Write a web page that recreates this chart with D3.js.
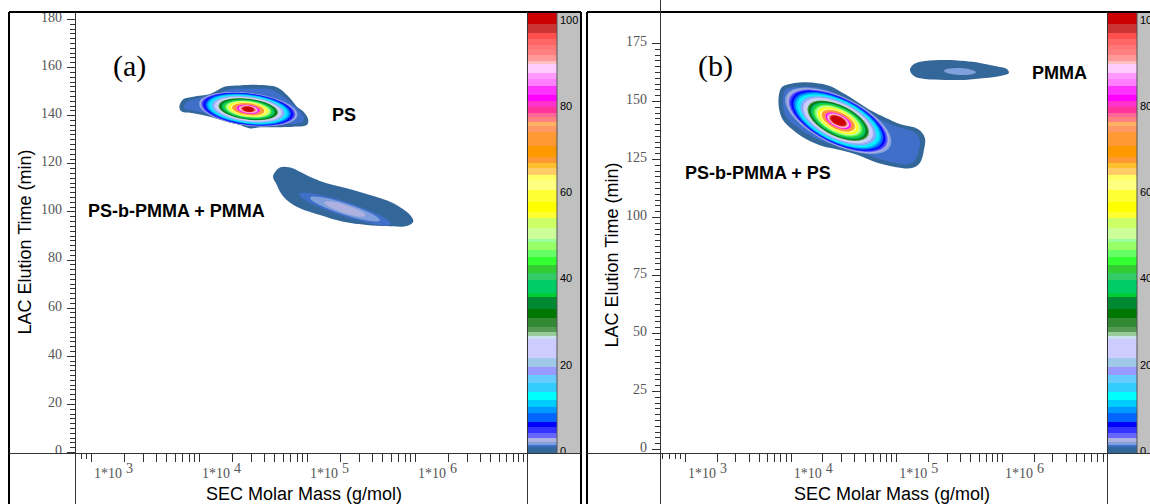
<!DOCTYPE html>
<html><head><meta charset="utf-8">
<script src="https://cdn.jsdelivr.net/npm/d3@7/dist/d3.min.js"></script>
<style>
html,body{margin:0;padding:0;background:#fff;}
svg{display:block;}
</style></head><body>
<svg id="chart" width="1150" height="504"></svg>
<script>
// ---- Intensity colour scale (% of max signal): lower edge of each band and its colour
const intensityEdges = [0,1.4,1.8,2.5,3.4,4.5,5.9,7.0,9.1,10.4,12.0,13.8,15.9,17.7,19.5,21.5,25.9,26.5,27.4,28.6,30.6,32.7,35.4,36.3,39.2,40.8,42.6,44.4,46.0,47.8,48.5,51.0,53.3,54.6,56.9,59.6,61.9,63.0,64.6,65.8,67.1,69.6,72.8,74.1,75.1,76.2,77.1,78.5,79.8,81.2,83.2,84.8,86.2,88.2,88.9,90.2,91.4,92.5,93.9,95.2,97.3];
const intensityColors = ["#336699","#3F6FC8","#7FA0DC","#AEB0E0","#6666FF","#3333FF","#0000FF","#0066FF","#0099FF","#00CCFF","#00FFFF","#33CCFF","#66CCFF","#9999FF","#A0C8E8","#CCCCFF","#CCE0F0","#99CC99","#559955","#338833","#007700","#008833","#00CC33","#00CC66","#33CC66","#33CC33","#33FF33","#66FF66","#99FF66","#99FF99","#CCFF99","#CCFF66","#FFFF33","#FFFF00","#FFFF33","#FFFF80","#FFFF66","#FFCC66","#FFC030","#FF9933","#FF9900","#FF9933","#FF9966","#FFB060","#FF8080","#FF6699","#FF3399","#FF33CC","#FF00FF","#FF33FF","#FF80FF","#FF99FF","#FFCCFF","#FFC0C0","#FF9999","#FF8080","#FF7777","#FF6666","#FF5050","#CC3333","#CC0000"];
const intensityTicks = [0,20,40,60,80,100];

// ---- Axis ticks
const timeTicksA = [0,20,40,60,80,100,120,140,160,180];
const timeTicksB = [0,25,50,75,100,125,150,175];
const massDecades = [3,4,5,6];

// ---- Spots: points are [log10 M (g/mol), LAC elution time (min)]
// (a) PS spot: lowest-level outline and the first shoulder
const psOutlineA = [[3.818,143.5],[3.855,146.6],[3.947,147.7],[4.102,148.8],[4.241,151.9],[4.380,152.4],[4.546,152.6],[4.685,152.1],[4.750,150.9],[4.815,148.4],[4.870,145.6],[4.907,143.5],[4.966,141.5],[5.012,138.0],[4.997,135.9],[4.873,135.2],[4.719,135.0],[4.565,135.0],[4.472,134.5],[4.380,135.9],[4.256,137.3],[4.102,139.4],[3.947,140.8],[3.840,141.5]];
const psShoulderA = [[3.861,143.6],[3.898,145.9],[3.981,147.0],[4.120,148.0],[4.269,150.7],[4.426,151.1],[4.546,151.1],[4.667,150.7],[4.778,148.0],[4.852,145.1],[4.926,142.2],[4.972,138.8],[4.954,137.0],[4.843,136.3],[4.704,135.9],[4.565,135.9],[4.472,135.4],[4.380,136.8],[4.250,138.2],[4.102,140.3],[3.963,141.8],[3.880,142.4]];
const psPeakA = [4.456,142.5];
// contour rings: [level %, half width (decades), half height (min)]
const psRingsA = [[1.8,0.46,6.8],[2.5,0.45,6.7],[3.4,0.44,6.6],[4.5,0.43,6.5],[5.9,0.415,6.35],[7.0,0.40,6.2],[9.1,0.385,6.0],[10.4,0.375,5.85],[12.0,0.36,5.65],[13.8,0.35,5.5],[15.9,0.34,5.3],[17.7,0.33,5.15],[19.5,0.32,5.0],[21.5,0.31,4.85],[25.9,0.285,4.5],[27.4,0.278,4.35],[30.6,0.268,4.2],[32.7,0.258,4.05],[36.3,0.245,3.85],[40.8,0.228,3.6],[44.4,0.215,3.4],[48.5,0.2,3.2],[54.6,0.182,2.95],[59.6,0.168,2.75],[65.8,0.15,2.45],[69.6,0.138,2.25],[75.1,0.12,2.0],[79.8,0.105,1.8],[84.8,0.09,1.6],[88.2,0.08,1.45],[91.4,0.07,1.3],[95.2,0.06,1.15],[97.3,0.05,1.0]];

// (a) PS-b-PMMA + PMMA spot
const blockOutlineA = [[4.688,115.1],[4.734,117.9],[4.781,118.6],[4.873,117.9],[4.935,116.5],[5.058,113.8],[5.182,111.7],[5.368,109.6],[5.583,106.8],[5.799,103.4],[5.954,98.5],[5.984,95.7],[5.923,93.9],[5.738,93.9],[5.553,94.4],[5.336,95.7],[5.120,98.5],[4.935,101.3],[4.812,104.8],[4.750,108.2],[4.713,111.7],[4.688,113.8]];
const blockPeakA = [5.352,101.0];
const blockRingsA = [[1.4,0.445,3.0],[1.8,0.34,2.3],[2.5,0.2,1.7]];

// (b) PS-b-PMMA + PS spot
const blockOutlineB = [[3.889,152.6],[3.918,156.0],[4.041,157.8],[4.230,157.8],[4.372,156.5],[4.495,153.4],[4.618,150.0],[4.750,146.1],[4.902,142.7],[5.034,140.1],[5.204,137.9],[5.270,134.1],[5.261,128.9],[5.223,123.3],[5.148,121.1],[4.987,121.6],[4.798,123.7],[4.637,126.7],[4.467,128.9],[4.296,130.6],[4.145,133.6],[4.022,137.5],[3.927,141.8],[3.889,147.0]];
const blockShoulderB = [[3.927,152.2],[3.956,155.2],[4.050,156.0],[4.220,156.0],[4.353,154.7],[4.466,152.2],[4.589,148.7],[4.722,144.8],[4.873,141.4],[5.015,138.8],[5.167,136.6],[5.223,133.2],[5.214,128.9],[5.176,124.6],[5.119,122.8],[4.987,123.3],[4.807,125.4],[4.646,128.4],[4.476,130.6],[4.315,132.3],[4.173,135.3],[4.060,138.8],[3.965,142.7],[3.927,147.4]];
const blockPeakB = [4.450,141.5];
const blockRingsB = [[1.8,0.549,10.3],[2.5,0.530,10.1],[3.4,0.511,9.9],[4.5,0.497,9.7],[5.9,0.482,9.5],[7.0,0.464,9.3],[9.1,0.445,9.05],[10.4,0.435,8.85],[12.0,0.416,8.6],[13.8,0.402,8.3],[15.9,0.388,8.05],[17.7,0.378,7.85],[19.5,0.364,7.6],[21.5,0.355,7.4],[25.9,0.326,6.9],[27.4,0.317,6.7],[30.6,0.303,6.45],[32.7,0.293,6.25],[36.3,0.279,5.95],[40.8,0.260,5.6],[44.4,0.246,5.3],[48.5,0.227,4.9],[54.6,0.208,4.5],[59.6,0.189,4.15],[65.8,0.170,3.7],[69.6,0.156,3.4],[75.1,0.142,3.1],[79.8,0.128,2.8],[84.8,0.114,2.5],[88.2,0.104,2.28],[91.4,0.095,2.07],[95.2,0.085,1.85],[97.3,0.076,1.64]];

// (b) PMMA spot
const pmmaOutlineB = [[5.129,163.4],[5.167,165.9],[5.271,167.2],[5.460,167.7],[5.649,167.2],[5.791,166.4],[5.933,165.1],[6.046,163.8],[6.065,162.1],[5.980,160.8],[5.838,159.9],[5.649,159.1],[5.460,159.1],[5.271,159.5],[5.167,160.8]];
const pmmaPeakB = [5.602,162.7];
const pmmaRingsB = [[1.8,0.151,1.5]];

// ---- Layout
const svg = d3.select("#chart");
const SANS = "'Liberation Sans', Arial, sans-serif";
const SERIF = "'Liberation Serif', 'Times New Roman', serif";

function bandColor(v){
  const i = Math.max(0, d3.bisectRight(intensityEdges, v) - 1);
  return intensityColors[i];
}

const panels = [
  { key:"a", frameL:9, frameR:581, plotL:75, plotR:527, top:12, bottom:453, axisTop:12,
    x:d3.scaleLog().domain([1e3,1e6]).range([91,415]),
    y:d3.scaleLinear().domain([0,180]).range([452,19]),
    timeTicks:timeTicksA, minorStep:2,
    tag:"(a)", tagAt:[113,76],
    spots:[
      {outlines:[[0,psOutlineA],[1.4,psShoulderA]], peak:psPeakA, rings:psRingsA, tilt:7},
      {outlines:[[0,blockOutlineA]], peak:blockPeakA, rings:blockRingsA, tilt:18}
    ],
    notes:[["PS",5.231,137.6],["PS-b-PMMA + PMMA",2.972,97.7]],
    yTitleX:31, yTitleY:242, xTitleX:304 },
  { key:"b", frameL:587, frameR:1161, plotL:660, plotR:1107, top:12, bottom:453, axisTop:0,
    x:d3.scaleLog().domain([1e3,1e6]).range([685,1002]),
    y:d3.scaleLinear().domain([0,175]).range([449,43]),
    timeTicks:timeTicksB, minorStep:2.5,
    tag:"(b)", tagAt:[698,76],
    spots:[
      {outlines:[[0,blockOutlineB],[1.4,blockShoulderB]], peak:blockPeakB, rings:blockRingsB, tilt:26},
      {outlines:[[0,pmmaOutlineB]], peak:pmmaPeakB, rings:pmmaRingsB, tilt:3}
    ],
    notes:[["PS-b-PMMA + PS",3.0,116.4],["PMMA",6.283,159.5]],
    yTitleX:618, yTitleY:255, xTitleX:892 }
];

svg.append("rect").attr("width",1150).attr("height",504).attr("fill","#fff");

panels.forEach(p => {
  const g = svg.append("g");
  const clipId = "clip-" + p.key;
  svg.append("clipPath").attr("id", clipId).append("rect")
    .attr("x", p.plotL).attr("y", p.top).attr("width", p.plotR - p.plotL).attr("height", p.bottom - p.top);

  // ---- spots
  const plot = g.append("g").attr("clip-path", `url(#${clipId})`);
  const line = d3.line()
    .x(d => p.x(Math.pow(10, d[0])))
    .y(d => p.y(d[1]))
    .curve(d3.curveCatmullRomClosed.alpha(0.5));
  p.spots.forEach(s => {
    s.outlines.forEach(([lvl, pts]) => {
      plot.append("path").attr("d", line(pts)).attr("fill", bandColor(lvl));
    });
    const cx = p.x(Math.pow(10, s.peak[0])), cy = p.y(s.peak[1]);
    s.rings.forEach(r => {
      const rx = p.x(Math.pow(10, s.peak[0] + r[1])) - cx;
      const ry = cy - p.y(s.peak[1] + r[2]);
      plot.append("ellipse")
        .attr("cx", cx).attr("cy", cy).attr("rx", rx).attr("ry", ry)
        .attr("transform", `rotate(${s.tilt},${cx},${cy})`)
        .attr("fill", bandColor(r[0]));
    });
  });

  // ---- annotations
  p.notes.forEach(([t, lm, tm]) => {
    g.append("text").attr("x", p.x(Math.pow(10, lm))).attr("y", p.y(tm))
      .attr("font-family", SANS).attr("font-weight", "bold").attr("font-size", 18)
      .attr("fill", "#000").text(t);
  });
  g.append("text").attr("x", p.tagAt[0]).attr("y", p.tagAt[1])
    .attr("font-family", SERIF).attr("font-size", 30).attr("fill", "#000").text(p.tag);

  // ---- colour bar
  const barL = p.plotR, barR = p.plotR + 30, grayR = barR + 24;
  const cb = d3.scaleLinear().domain([0,100]).range([p.bottom, p.top]);
  const cbLab = d3.scaleLinear().domain([0,100]).range([451, 20]);
  const bar = g.append("g").attr("shape-rendering","crispEdges");
  intensityEdges.forEach((e, i) => {
    const hi = i + 1 < intensityEdges.length ? intensityEdges[i+1] : 100;
    bar.append("rect").attr("x", barL).attr("width", barR - barL)
      .attr("y", cb(hi)).attr("height", cb(e) - cb(hi)).attr("fill", intensityColors[i]);
  });
  bar.append("rect").attr("x", barR).attr("y", p.top).attr("width", grayR - barR)
    .attr("height", p.bottom - p.top).attr("fill", "#C0C0C0");
  const cbClip = "cbclip-" + p.key;
  svg.append("clipPath").attr("id", cbClip).append("rect")
    .attr("x", barR).attr("y", p.top).attr("width", grayR - barR).attr("height", p.bottom - p.top);
  const labs = g.append("g").attr("clip-path", `url(#${cbClip})`);
  intensityTicks.forEach(v => {
    labs.append("text").attr("x", barR + 3).attr("y", cbLab(v)).attr("dy", "0.35em")
      .attr("font-family", SANS).attr("font-size", 11).attr("fill", "#000").text(v);
  });
  g.append("line").attr("x1", barR).attr("x2", barR).attr("y1", p.top).attr("y2", p.bottom)
    .attr("stroke", "#555").attr("stroke-width", 1);

  // ---- time axis (left)
  const minor = d3.range(0, p.y.domain()[1] + 0.01, p.minorStep);
  const yAx = g.append("g").attr("shape-rendering","crispEdges");
  minor.forEach(v => {
    const yy = Math.round(p.y(v)) + 0.5;
    if (yy < p.top) return;
    const major = p.timeTicks.includes(v);
    yAx.append("line").attr("x1", p.plotL - (major ? 8 : 5)).attr("x2", p.plotL)
      .attr("y1", yy).attr("y2", yy).attr("stroke", "#333");
  });
  const yLabClip = "ylclip-" + p.key;
  svg.append("clipPath").attr("id", yLabClip).append("rect")
    .attr("x", p.frameL).attr("y", p.top + 1).attr("width", p.plotL - p.frameL).attr("height", p.bottom - p.top);
  const yl = g.append("g").attr("clip-path", `url(#${yLabClip})`);
  p.timeTicks.forEach(v => {
    yl.append("text").attr("x", p.plotL - 13).attr("y", p.y(v) - 2).attr("dy", "0.35em")
      .attr("text-anchor", "end").attr("font-family", SERIF).attr("font-size", 14)
      .attr("fill", "#555").text(v);
  });

  // ---- molar-mass axis (bottom, log)
  const xAx = g.append("g").attr("shape-rendering","crispEdges");
  for (let d = 2; d <= 7; d++) {
    for (let k = 1; k <= 9; k++) {
      const m = k * Math.pow(10, d);
      const xx = Math.round(p.x(m)) + 0.5;
      if (xx < p.plotL || xx > p.plotR) continue;
      const len = m < 1e3 ? 6 : 9;
      xAx.append("line").attr("x1", xx).attr("x2", xx).attr("y1", p.bottom)
        .attr("y2", p.bottom + len).attr("stroke", "#333");
    }
  }
  massDecades.forEach(d => {
    const t = g.append("text").attr("x", p.x(Math.pow(10, d)) + 3).attr("y", 478)
      .attr("font-family", SERIF).attr("font-size", 14).attr("fill", "#555");
    t.append("tspan").text("1*10");
    t.append("tspan").attr("dx", 4).attr("dy", -5).text(d);
  });

  // ---- frame lines
  const L = (x1, y1, x2, y2, c, w) => g.append("line").attr("x1", x1).attr("y1", y1)
    .attr("x2", x2).attr("y2", y2).attr("stroke", c).attr("stroke-width", w)
    .attr("shape-rendering","crispEdges");
  L(p.frameL, p.top, p.frameR, p.top, "#000", 2);
  L(p.frameL, p.top, p.frameL, 504, "#000", 2);
  L(p.frameR, p.top, p.frameR, 504, "#000", 2);
  L(p.frameL, p.bottom, p.frameR, p.bottom, "#333", 1);
  L(p.plotL, p.axisTop, p.plotL, 504, "#333", 1);
  L(p.plotR, p.top, p.plotR, 504, "#333", 1);

  // ---- axis titles
  g.append("text").attr("transform", `translate(${p.yTitleX},${p.yTitleY}) rotate(-90)`)
    .attr("text-anchor", "middle").attr("font-family", SANS).attr("font-size", 18)
    .attr("fill", "#000").text("LAC Elution Time (min)");
  g.append("text").attr("x", p.xTitleX).attr("y", 500).attr("text-anchor", "middle")
    .attr("font-family", SANS).attr("font-size", 18).attr("fill", "#000")
    .text("SEC Molar Mass (g/mol)");
});
</script>
</body></html>
